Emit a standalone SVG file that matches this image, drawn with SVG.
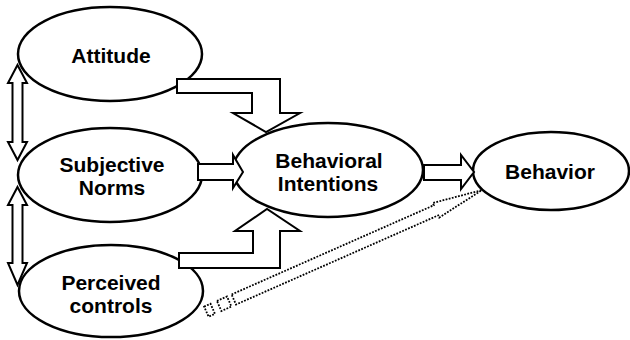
<svg xmlns="http://www.w3.org/2000/svg" width="630" height="340" viewBox="0 0 630 340">
<style>
.node{fill:#fff;stroke:#000;stroke-width:2.5}
.lbl{font-family:"Liberation Sans",Arial,sans-serif;font-weight:bold;font-size:21px;fill:#000;text-anchor:middle}
.blk{fill:#fff;stroke:#000;stroke-width:2;stroke-linejoin:miter}
.dot{fill:#fff;stroke:#000;stroke-width:1.8;stroke-dasharray:1.8 1.4}
</style>
<rect width="630" height="340" fill="#fff"/>
<g id="attitude"><ellipse class="node" cx="110" cy="54" rx="92" ry="47"/><text class="lbl" x="111" y="63">Attitude</text></g>
<g id="subjective-norms"><ellipse class="node" cx="110" cy="175" rx="92" ry="47"/><text class="lbl" x="112" y="172">Subjective</text><text class="lbl" x="112" y="195">Norms</text></g>
<g id="perceived-controls"><ellipse class="node" cx="111" cy="291" rx="92" ry="46"/><text class="lbl" x="111" y="290">Perceived</text><text class="lbl" x="111" y="313">controls</text></g>
<g id="behavioral-intentions"><ellipse class="node" cx="328" cy="170" rx="95" ry="47"/><text class="lbl" x="329" y="168">Behavioral</text><text class="lbl" x="328" y="191">Intentions</text></g>
<g id="behavior"><ellipse class="node" cx="551" cy="171" rx="78" ry="39"/><text class="lbl" x="550" y="179">Behavior</text></g>
<g id="connectors">
<polygon class="blk" points="177,79 280,79 280,113 300,113 266,132 233,113 252,113 252,93 177,93"/>
<polygon class="blk" points="179,268 280,268 280,231 300,231 267,209 235,231 253,231 253,253 179,253"/>
<polygon class="blk" points="198,164 233,164 233,155 243,172 233,188 233,180 198,180"/>
<polygon class="blk" points="424,165 461,165 461,155 474,172 461,189 461,180 424,180"/>
<polygon class="blk" points="17.5,65 27,83 22.5,83 22.5,142 27,142 17.5,160 8,142 12.5,142 12.5,83 8,83"/>
<polygon class="blk" points="17.5,187 27,205 22.5,205 22.5,263 27,263 17.5,285 8,263 12.5,263 12.5,205 8,205"/>
<g transform="translate(210,310) rotate(-23.8)">
<rect class="dot" x="-4" y="-5.5" width="7" height="11"/>
<rect class="dot" x="10" y="-5.5" width="11" height="11"/>
<polygon class="dot" points="26,-5.5 247,-5.5 247,-8 297,0 247,8 247,5.5 26,5.5"/>
</g>
</g>
</svg>
